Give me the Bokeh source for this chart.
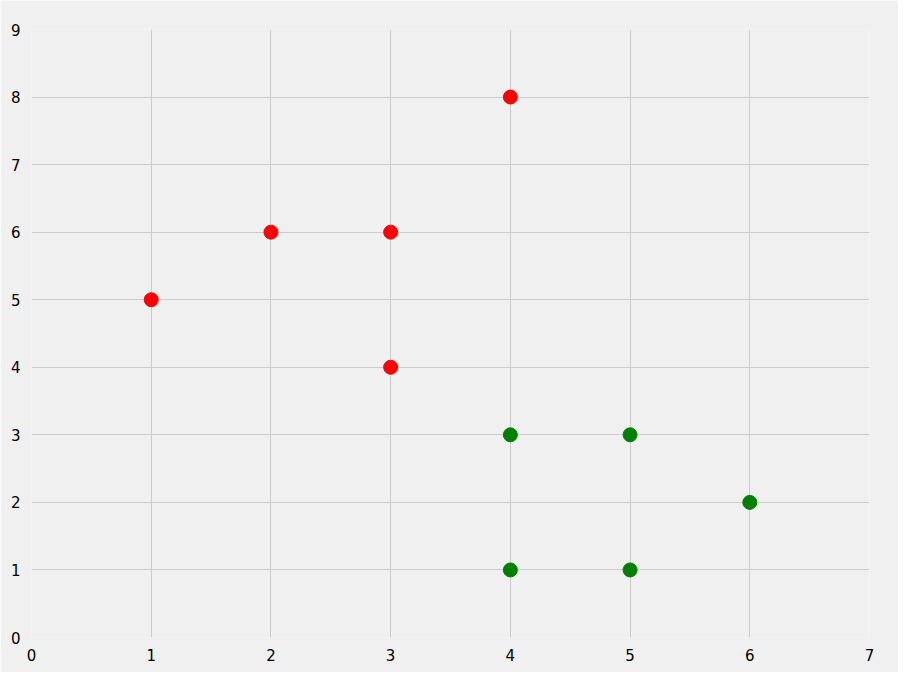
from bokeh.plotting import figure
from bokeh.models import Range1d, FixedTicker
from bokeh.embed import file_html
from bokeh.resources import INLINE

# two groups of points
red_x = [1, 2, 3, 3, 4]
red_y = [5, 6, 6, 4, 8]
green_x = [4, 5, 6, 4, 5]
green_y = [3, 3, 2, 1, 1]

x_ticks = [0, 1, 2, 3, 4, 5, 6, 7]
y_ticks = [0, 1, 2, 3, 4, 5, 6, 7, 8, 9]

p = figure(
    width=898,
    height=672,
    output_backend="svg",
    toolbar_location=None,
    min_border_left=31,
    min_border_right=29,
    min_border_top=29,
    min_border_bottom=35,
)
p.x_range = Range1d(start=0, end=7)
p.y_range = Range1d(start=0, end=9)

p.background_fill_color = "#f0f0f0"
p.border_fill_color = "#f0f0f0"
p.outline_line_color = None

p.xaxis.ticker = FixedTicker(ticks=x_ticks)
p.yaxis.ticker = FixedTicker(ticks=y_ticks)
for ax in (p.xaxis, p.yaxis):
    ax.axis_line_color = None
    ax.major_tick_line_color = None
    ax.minor_tick_line_color = None
    ax.major_label_text_font = "DejaVu Sans"
    ax.major_label_text_font_size = "15px"
    ax.major_label_text_color = "#000000"
    ax.major_label_standoff = 5

p.xgrid.ticker = FixedTicker(ticks=x_ticks[1:-1])
p.ygrid.ticker = FixedTicker(ticks=y_ticks[1:-1])
p.grid.grid_line_color = "#cbcbcb"
p.grid.grid_line_width = 1

p.scatter(red_x, red_y, size=14, color="red", marker="circle")
p.scatter(green_x, green_y, size=14, color="green", marker="circle")

open("out.html", "w").write(file_html(p, INLINE))
